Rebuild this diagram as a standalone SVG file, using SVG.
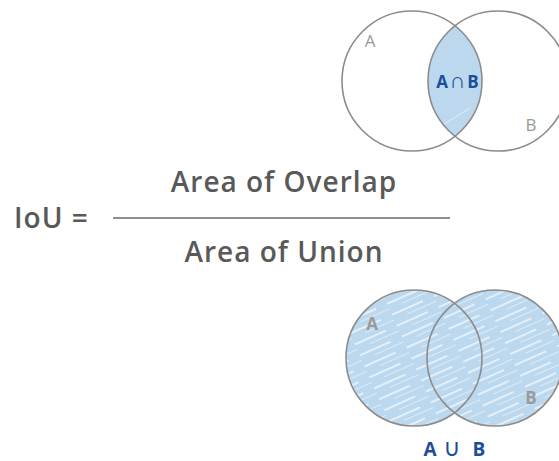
<svg xmlns="http://www.w3.org/2000/svg" width="559" height="461" viewBox="0 0 559 461">
<defs>
<style>
.circ{fill:none;stroke:#8c8c8c;stroke-width:1.6}
.lbl{font-family:"Open Sans","Liberation Sans",sans-serif;font-size:17px;fill:#9a9a9a}
.lblb{font-family:"Open Sans","Liberation Sans",sans-serif;font-size:17px;font-weight:700;fill:#9a9a9a}
.blue{font-family:"Open Sans","Liberation Sans",sans-serif;font-weight:700;fill:#1c4e9b}
.sym{font-family:"Liberation Sans","DejaVu Sans",sans-serif;fill:#1c4e9b}
.form{font-family:"Open Sans","Liberation Sans",sans-serif;font-size:28px;font-weight:600;fill:#595959;letter-spacing:1px}
</style>
<pattern id="hatch" patternUnits="userSpaceOnUse" width="46" height="12" patternTransform="rotate(-24)">
<rect width="46" height="12" fill="#bcd8ee"/>
<line x1="0" y1="3" x2="34" y2="3" stroke="#ffffff" stroke-width="1.3" opacity="0.8"/>
<line x1="14" y1="8.5" x2="46" y2="8.5" stroke="#ffffff" stroke-width="0.9" opacity="0.55"/>
</pattern>
<clipPath id="clipA1"><circle cx="412" cy="81" r="70"/></clipPath>
</defs>
<g id="venn-intersection">
<circle cx="498" cy="81" r="70" fill="#bcd8ee" clip-path="url(#clipA1)"/>
<line x1="438" y1="128" x2="470" y2="108" stroke="#fff" stroke-width="1" opacity="0.6" clip-path="url(#clipA1)"/>
<circle class="circ" cx="412" cy="81" r="70"/>
<circle class="circ" cx="498" cy="81" r="70"/>
<text class="lbl" x="370" y="47" text-anchor="middle">A</text>
<text class="lbl" x="531" y="131" text-anchor="middle">B</text>
<text class="blue" x="442" y="88" text-anchor="middle" font-size="17">A</text>
<text class="sym" x="457.5" y="88" text-anchor="middle" font-size="22" font-weight="700">∩</text>
<text class="blue" x="473" y="88" text-anchor="middle" font-size="17">B</text>
</g>
<g id="formula">
<text class="form" x="14" y="228">IoU =</text>
<line x1="113" y1="218" x2="450" y2="218" stroke="#6a6a6a" stroke-width="1.3"/>
<text class="form" x="284" y="192" text-anchor="middle">Area of Overlap</text>
<text class="form" x="284" y="262" text-anchor="middle">Area of Union</text>
</g>
<g id="venn-union">
<circle cx="414" cy="358" r="68" fill="url(#hatch)"/>
<circle cx="495" cy="358" r="68" fill="url(#hatch)"/>
<circle class="circ" cx="414" cy="358" r="68"/>
<circle class="circ" cx="495" cy="358" r="68"/>
<text class="lblb" x="372" y="330" text-anchor="middle">A</text>
<text class="lblb" x="531" y="404" text-anchor="middle">B</text>
<text class="blue" x="430" y="456" text-anchor="middle" font-size="19">A</text>
<text class="sym" x="452" y="456" text-anchor="middle" font-size="24">∪</text>
<text class="blue" x="479" y="456" text-anchor="middle" font-size="19">B</text>
</g>
</svg>
